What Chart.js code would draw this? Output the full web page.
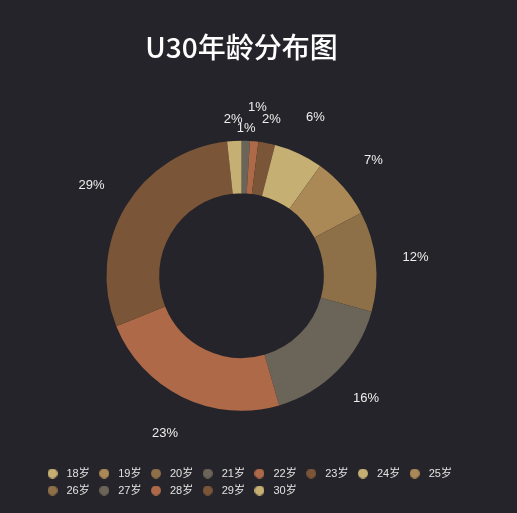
<!DOCTYPE html>
<html>
<head>
<meta charset="utf-8">
<script src="https://cdn.jsdelivr.net/npm/chart.js@4/dist/chart.umd.min.js"></script>
<style>
  html, body { margin: 0; padding: 0; background: #25242a; }
  #wrap { width: 517px; height: 513px; position: relative; }
</style>
</head>
<body>
<div id="wrap"><canvas id="ageChart"></canvas></div>
<script>
// U30 age distribution (percent of total)
const ageLabels = ['18岁', '19岁', '20岁', '21岁', '22岁', '23岁', '24岁', '25岁', '26岁', '27岁', '28岁', '29岁', '30岁'];
const agePercent = [0, 0, 0, 1.0, 1.0, 2.0, 5.9, 7.4, 12.0, 16.2, 23.4, 29.4, 1.7];
const palette = ['#c6af72', '#ab8956', '#8d6f48', '#6b6458', '#ae6948', '#7b5538'];

const sliceColors = ageLabels.map((_, i) => palette[i % palette.length]);
const FONT = '"Liberation Sans", Arial, "Noto Sans CJK SC", sans-serif';

// small round swatches for the legend (lets the box be wider than the dot)
function dot(color) {
    const c = document.createElement('canvas');
    c.width = 10; c.height = 10;
    const g = c.getContext('2d');
    g.fillStyle = color;
    g.beginPath();
    g.arc(5, 5, 5, 0, Math.PI * 2);
    g.fill();
    return c;
}
const dots = sliceColors.map(dot);

// percent labels outside the ring
const pctLabels = {
    id: 'pctLabels',
    afterDatasetsDraw(chart, args, opts) {
        const ctx = chart.ctx;
        const meta = chart.getDatasetMeta(0);
        const values = chart.data.datasets[0].data;
        ctx.save();
        ctx.font = opts.font;
        ctx.fillStyle = opts.color;
        ctx.textAlign = 'center';
        ctx.textBaseline = 'middle';
        meta.data.forEach((arc, i) => {
            if (!values[i]) return;
            const p = arc.getProps(['x', 'y', 'startAngle', 'endAngle', 'outerRadius'], true);
            const mid = (p.startAngle + p.endAngle) / 2;
            const r = p.outerRadius + (opts.offsets[i] !== undefined ? opts.offsets[i] : opts.offset);
            ctx.fillText(Math.round(values[i]) + '%', p.x + Math.cos(mid) * r, p.y + Math.sin(mid) * r);
        });
        ctx.restore();
    }
};

new Chart(document.getElementById('ageChart'), {
    type: 'doughnut',
    data: {
        labels: ageLabels,
        datasets: [{
            data: agePercent,
            backgroundColor: sliceColors,
            borderWidth: 0,
        }],
    },
    options: {
        responsive: true,
        maintainAspectRatio: false,
        animation: false,
        radius: 135,
        cutout: '61%',
        layout: { padding: { left: 38, right: 30, top: 0, bottom: 7 } },
        plugins: {
            title: {
                display: true,
                text: 'U30年龄分布图',
                color: '#ffffff',
                fullSize: false,
                font: { family: '"Noto Sans CJK SC", sans-serif', size: 28, weight: 500 },
                padding: { top: 30.2, bottom: 25.7 },
            },
            // empty block on the right, keeps the ring centred like the original
            subtitle: {
                display: true,
                position: 'right',
                fullSize: false,
                text: '',
                padding: { top: 0, bottom: 27.6 },
            },
            legend: {
                position: 'bottom',
                align: 'start',
                labels: {
                    color: '#e2e2e2',
                    font: { family: FONT, size: 11 },
                    usePointStyle: true,
                    pointStyleWidth: 17,
                    boxHeight: 7,
                    padding: 6,
                    generateLabels(chart) {
                        const items = Chart.overrides.doughnut.plugins.legend.labels.generateLabels(chart);
                        items.forEach((it, i) => { it.pointStyle = dots[i]; });
                        return items;
                    },
                },
            },
            tooltip: { enabled: false },
            pctLabels: {
                font: '13px ' + FONT,
                color: '#eeeeee',
                offset: 40,
                offsets: { 3: 12, 4: 34, 5: 24, 12: 22 },
            },
        },
    },
    plugins: [pctLabels],
});
</script>
</body>
</html>
